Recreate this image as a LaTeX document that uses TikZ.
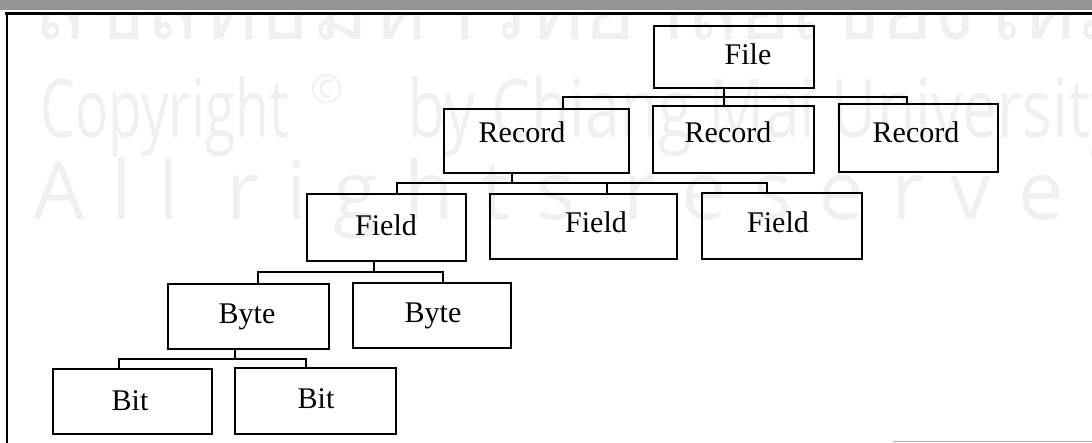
\documentclass[tikz,border=0pt]{standalone}
\usepackage{fontspec}
\setmainfont{Liberation Serif}
\newfontfamily\thaiwm[Script=Thai]{Loma}
\newfontfamily\wmsans{Open Sans}
\tikzset{
  box/.style={draw, line width=1.25pt, inner sep=0pt},
  lbl/.style={anchor=base, inner sep=0pt, font=\fontsize{15}{18}\selectfont},
  conn/.style={line width=1.2pt},
  wm/.style={text=black!6, inner sep=0pt, anchor=base west},
  frameline/.style={line width=1.3pt},
}
\begin{document}
\begin{tikzpicture}[x=0.5pt,y=-0.5pt]
\useasboundingbox (0,0) rectangle (1092,443);
% watermark
\begin{scope}
\clip (7,14) rectangle (1092,443);
\node[wm, font=\thaiwm\fontsize{44}{44}\selectfont] (wmthai) at (32,40) {ลิขสิทธิ์มหาวิทยาลัยเชียงใหม่};
\node[wm, font=\wmsans\fontsize{40.5}{41}\selectfont] (wmcopy) at (40,138) {\scalebox{0.68}[1]{Copyright}};
\node[wm, font=\wmsans\fontsize{20}{21}\selectfont] (wmc) at (310,104) {©};
\node[wm, font=\wmsans\fontsize{40.5}{41}\selectfont] (wmby) at (407,138) {\scalebox{0.77}[1]{by Chiang Mai University}};
\node[wm, font=\wmsans\fontsize{40.5}{41}\selectfont\addfontfeature{LetterSpace=33}] (wmall) at (33,220) {All rights reserved};
\end{scope}
% scan band and frame
\fill[black!42] (0,0) rectangle (1092,10);
\draw[frameline] (5,13.5) -- (1092,13.5);
\draw[frameline] (7,13) -- (7,443);
\draw[line width=0.8pt, black!30] (893,441.5) -- (1092,441.5);
% boxes
\node[box, minimum width=80pt, minimum height=30.8pt] (file) at (734,57) {};
\node[box, minimum width=92.3pt, minimum height=31.8pt] (r1) at (536.5,141) {};
\node[box, minimum width=80.3pt, minimum height=33.3pt] (r2) at (733.5,139.5) {};
\node[box, minimum width=79.3pt, minimum height=33.8pt] (r3) at (918.5,138) {};
\node[box, minimum width=79.3pt, minimum height=33.3pt] (f1) at (386.5,227.5) {};
\node[box, minimum width=93.3pt, minimum height=32.3pt] (f2) at (583.5,226.5) {};
\node[box, minimum width=79.8pt, minimum height=32.8pt] (f3) at (782,226) {};
\node[box, minimum width=80.3pt, minimum height=32.3pt] (by1) at (248.5,316.5) {};
\node[box, minimum width=78.8pt, minimum height=32.3pt] (by2) at (432,315.5) {};
\node[box, minimum width=79.3pt, minimum height=32.3pt] (bi1) at (132.5,401.5) {};
\node[box, minimum width=80.3pt, minimum height=32.8pt] (bi2) at (315.5,401) {};
% labels
\node[lbl] (tfile) at (748,65) {File};
\node[lbl] (tr1) at (522,143) {Record};
\node[lbl] (tr2) at (728,143) {Record};
\node[lbl] (tr3) at (916,143) {Record};
\node[lbl] (tf1) at (386,235) {Field};
\node[lbl] (tf2) at (596,233) {Field};
\node[lbl] (tf3) at (778,233) {Field};
\node[lbl] (tby1) at (247,323) {Byte};
\node[lbl] (tby2) at (433,322) {Byte};
\node[lbl] (tbi1) at (130,410) {Bit};
\node[lbl] (tbi2) at (316,408) {Bit};
% bus coordinates
\coordinate (t1) at (724,97);
\coordinate (d1a) at (563,97);
\coordinate (d1c) at (907,97);
\coordinate (t2) at (512,183);
\coordinate (d2a) at (397,183);
\coordinate (d2b) at (607,183);
\coordinate (d2c) at (767,183);
\coordinate (t3) at (374,272);
\coordinate (d3a) at (258,272);
\coordinate (d3b) at (443,272);
\coordinate (t4) at (235,359);
\coordinate (d4a) at (119,359);
\coordinate (d4b) at (306,359);
% connectors
\draw[conn] (file.south -| t1) -- (r2.north -| t1);
\draw[conn] (r1.north -| d1a) |- (t1) -| (r3.north -| d1c);
\draw[conn] (r1.south -| t2) -- (t2);
\draw[conn] (f1.north -| d2a) |- (t2) -| (f3.north -| d2c);
\draw[conn] (d2b) -- (f2.north -| d2b);
\draw[conn] (f1.south -| t3) -- (t3);
\draw[conn] (by1.north -| d3a) |- (t3) -| (by2.north -| d3b);
\draw[conn] (by1.south -| t4) -- (t4);
\draw[conn] (bi1.north -| d4a) |- (t4) -| (bi2.north -| d4b);
\end{tikzpicture}
\end{document}
